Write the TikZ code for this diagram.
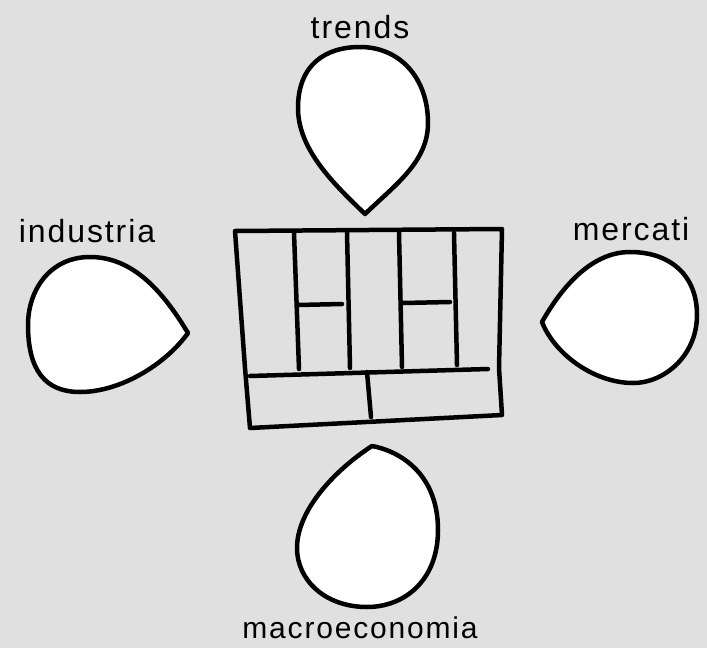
\documentclass[tikz,border=0pt]{standalone}
\usepackage{fontspec}
\setmainfont[LetterSpace=6]{Liberation Sans}
\definecolor{paper}{RGB}{224,224,224}
\tikzset{
  blob/.style={draw=black,fill=white,line width=4.5pt,line join=round},
  pen/.style={draw=black,line width=4.5pt,line cap=round,line join=round},
  lbl/.style={anchor=base,inner sep=0pt,font=\fontsize{32}{36}\selectfont}
}
\begin{document}
\begin{tikzpicture}[x=1pt,y=-1pt]
    \fill[paper] (0,0) rectangle (707,648);
    \useasboundingbox (0,0) rectangle (707,648);

    % labels
    \node[lbl] (trends) at (360,38) {trends};
    \node[lbl] (industria) at (87,242) {industria};
    \node[lbl] (mercati) at (631,240) {mercati};
    \node[lbl,font=\fontsize{30}{34}\selectfont] (macro) at (360,638) {macroeconomia};

    % the four drops
    \draw[blob] (365,214) .. controls (335,185) and (298,150) .. (298,108)
        .. controls (298,65) and (325,47) .. (360,47)
        .. controls (400,47) and (428,78) .. (428,123)
        .. controls (428,162) and (395,185) .. (365,214) -- cycle;
    \draw[blob] (188,333) .. controls (165,295) and (135,257) .. (90,257)
        .. controls (50,257) and (28,290) .. (28,325)
        .. controls (28,370) and (45,392) .. (80,392)
        .. controls (120,392) and (165,365) .. (188,333) -- cycle;
    \draw[blob] (542,322) .. controls (560,290) and (590,252) .. (630,252)
        .. controls (670,252) and (697,275) .. (697,315)
        .. controls (697,355) and (665,383) .. (633,383)
        .. controls (595,383) and (555,355) .. (542,322) -- cycle;
    \draw[blob] (372,446) .. controls (395,450) and (438,470) .. (438,530)
        .. controls (438,580) and (405,607) .. (367,607)
        .. controls (325,607) and (297,580) .. (297,548)
        .. controls (297,510) and (335,470) .. (372,446) -- cycle;

    % canvas in the middle
    \draw[pen] (235,231) -- (502,229) -- (499,368) -- (502,415) -- (250,428)
        -- (245,368) -- cycle;
    \draw[pen] (250,376) -- (488,369);
    \draw[pen] (294,233) -- (299,369);
    \draw[pen] (347,232) -- (350,368);
    \draw[pen] (399,233) -- (402,367);
    \draw[pen] (454,233) -- (457,365);
    \draw[pen] (298,305) -- (342,304);
    \draw[pen] (403,303) -- (450,302);
    \draw[pen] (367,372) -- (371,417);
\end{tikzpicture}
\end{document}
